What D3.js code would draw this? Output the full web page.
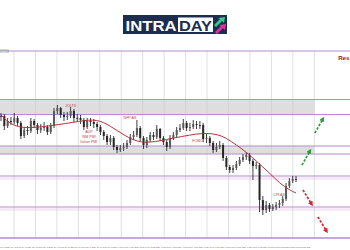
<!DOCTYPE html>
<html>
<head>
<meta charset="utf-8">
<script src="https://cdn.jsdelivr.net/npm/d3@7"></script>
<style>
  html, body { margin: 0; padding: 0; background: #fff; }
  svg { display: block; font-family: "Liberation Sans", Arial, sans-serif; }
</style>
</head>
<body>
<script>
// price bars (4h)
var closes = [1.0944,1.0924,1.0934,1.0932,1.0940,1.0930,1.0904,1.0916,1.0914,1.0934,
  1.0926,1.0916,1.0920,1.0922,1.0912,1.0924,1.0954,1.0960,1.0946,1.0942,
  1.0944,1.0954,1.0940,1.0940,1.0936,1.0922,1.0934,1.0932,1.0928,1.0922,
  1.0912,1.0904,1.0892,1.0900,1.0882,1.0876,1.0880,1.0882,1.0890,1.0902,
  1.0906,1.0920,1.0900,1.0886,1.0896,1.0906,1.0902,1.0918,1.0900,1.0892,
  1.0882,1.0900,1.0906,1.0916,1.0920,1.0930,1.0920,1.0922,1.0928,1.0926,
  1.0926,1.0898,1.0900,1.0890,1.0876,1.0882,1.0886,1.0860,1.0842,1.0836,
  1.0840,1.0848,1.0856,1.0862,1.0866,1.0854,1.0844,1.0846,1.0776,1.0756,
  1.0766,1.0758,1.0762,1.0766,1.0770,1.0778,1.0804,1.0814,1.0818,1.0818];
var highs = [1.0950,1.0948,1.0940,1.0942,1.0950,1.0944,1.0934,1.0922,1.0924,1.0940,
  1.0938,1.0930,1.0928,1.0932,1.0926,1.0930,1.0960,1.0966,1.0962,1.0952,
  1.0952,1.0962,1.0958,1.0948,1.0946,1.0940,1.0940,1.0940,1.0938,1.0932,
  1.0926,1.0916,1.0908,1.0906,1.0904,1.0886,1.0886,1.0890,1.0896,1.0908,
  1.0914,1.0936,1.0924,1.0904,1.0902,1.0912,1.0912,1.0926,1.0920,1.0904,
  1.0896,1.0906,1.0912,1.0922,1.0928,1.0938,1.0934,1.0930,1.0936,1.0934,
  1.0934,1.0930,1.0908,1.0904,1.0894,1.0890,1.0894,1.0890,1.0864,1.0846,
  1.0846,1.0854,1.0862,1.0868,1.0872,1.0870,1.0858,1.0852,1.0850,1.0784,
  1.0774,1.0770,1.0768,1.0772,1.0776,1.0784,1.0810,1.0820,1.0824,1.0824];
var lows = [1.0934,1.0916,1.0920,1.0926,1.0928,1.0924,1.0898,1.0900,1.0906,1.0910,
  1.0920,1.0908,1.0910,1.0914,1.0906,1.0908,1.0920,1.0948,1.0940,1.0934,
  1.0936,1.0940,1.0932,1.0932,1.0928,1.0916,1.0918,1.0924,1.0920,1.0914,
  1.0906,1.0896,1.0886,1.0886,1.0876,1.0870,1.0872,1.0874,1.0878,1.0886,
  1.0896,1.0902,1.0894,1.0878,1.0880,1.0892,1.0896,1.0898,1.0894,1.0886,
  1.0874,1.0878,1.0896,1.0902,1.0912,1.0916,1.0914,1.0914,1.0918,1.0918,
  1.0918,1.0892,1.0890,1.0884,1.0870,1.0872,1.0878,1.0854,1.0836,1.0830,
  1.0830,1.0836,1.0844,1.0852,1.0856,1.0848,1.0816,1.0838,1.0752,1.0746,
  1.0750,1.0752,1.0754,1.0756,1.0760,1.0764,1.0774,1.0800,1.0810,1.0812];

// moving average (red)
var maBar = [0,2,6,15,24,29,33,37,40,43,48,52,57,61,65,68,71,74,77,81,84,87,89];
var maValue = [1.0946,1.0932,1.0918,1.0924,1.0934,1.0938,1.0924,1.0906,1.0896,1.0890,1.0894,1.0900,
  1.0906,1.0910,1.0908,1.0900,1.0886,1.0872,1.0854,1.0830,1.0810,1.0796,1.0790];

// support / resistance levels and the two grey zones
var levels = [1.1074, 1.0977, 1.0947, 1.0884, 1.0868, 1.0824, 1.0762, 1.0700];
var zoneLow = [1.0947, 1.0868];
var zoneHigh = [1.0977, 1.0884];

// news labels
var eventNames = ['JOLTS', 'ADP', 'ISM PMI', 'Italian PMI', 'NFP AS', 'FOMC', 'CPI AS'];
var eventBar = [21, 26.5, 26.5, 26.5, 38.9, 59.3, 83.9];
var eventPrice = [1.0965, 1.0912, 1.0902, 1.0892, 1.0941, 1.0894, 1.0786];

// scenario arrows: [bar from, price from, bar to, price to]
var upArrows = [[94.7, 1.0910, 97.1, 1.0938], [90.8, 1.0846, 93.2, 1.0874]];
var downArrows = [[91.1, 1.0796, 93.7, 1.0768], [95.6, 1.0742, 98.2, 1.0714]];

// date labels under the chart (every half day)
var dateLabels = ['23 Apr 2024','24 Apr 00:00','24 Apr 2024','25 Apr 00:00','25 Apr 2024','26 Apr 00:00',
  '26 Apr 2024','29 Apr 00:00','29 Apr 2024','30 Apr 00:00','30 Apr 2024','1 May 00:00','1 May 2024',
  '2 May 00:00','2 May 2024','3 May 00:00','3 May 2024','6 May 00:00','6 May 2024','7 May 00:00',
  '7 May 2024','8 May 00:00','8 May 2024','9 May 00:00','9 May 2024','10 May 00:00','10 May 2024',
  '13 May 00:00','13 May 2024'];

var W = 350, H = 250;
var svg = d3.select('body').append('svg').attr('width', W).attr('height', H);

var y = d3.scaleLinear().domain([1.0700, 1.1074]).range([238, 51]);
var x = d3.scaleLinear().domain([0, 89]).range([1, 296]);
// one grid step = one trading day
var day = d3.scaleLinear().domain([0, 14]).range([14, 314.3]);

// --- logo ---
var logo = svg.append('g');
logo.append('rect').attr('x', 123).attr('y', 15).attr('width', 104).attr('height', 19).attr('fill', '#1c2d50');
logo.append('text').attr('x', 125.5).attr('y', 30.5).text('INTRA')
    .attr('fill', '#fff').attr('font-size', 15).attr('font-weight', 'bold')
    .attr('textLength', 51).attr('lengthAdjust', 'spacingAndGlyphs');
logo.append('rect').attr('x', 178).attr('y', 17.5).attr('width', 35).attr('height', 14.5).attr('fill', '#fff');
logo.append('text').attr('x', 179).attr('y', 30.5).text('DAY')
    .attr('fill', '#1c2d50').attr('font-size', 15).attr('font-weight', 'bold')
    .attr('textLength', 33).attr('lengthAdjust', 'spacingAndGlyphs');
logo.append('path').attr('d', 'M214,25 L220,19 L218,18 L225,17 L224,23 L222,21 L216,27 Z').attr('fill', '#36c98a');
logo.append('path').attr('d', 'M215,32 L221,26 L219,25 L226,24 L225,30 L223,28 L217,34 Z').attr('fill', '#e2309c');

// --- grey zones ---
svg.selectAll('rect.zone')
    .data(zoneLow).enter().append('rect')
    .attr('class', 'zone')
    .attr('x', 0)
    .attr('width', day(14))
    .attr('y', function(d, i){ return y(zoneHigh[i]); })
    .attr('height', function(d, i){ return y(d) - y(zoneHigh[i]); })
    .attr('fill', '#dedede');

// faint pink glow under the lower levels
svg.selectAll('rect.glow')
    .data(levels.slice(5, 7)).enter().append('rect')
    .attr('class', 'glow')
    .attr('x', 0).attr('width', W)
    .attr('y', function(d){ return y(d) + 1; })
    .attr('height', 3)
    .attr('fill', '#f7e9f6');

// --- vertical day grid ---
svg.selectAll('line.grid')
    .data(d3.range(0, 15)).enter().append('line')
    .attr('class', 'grid')
    .attr('x1', function(d){ return day(d); })
    .attr('x2', function(d){ return day(d); })
    .attr('y1', y(1.1074)).attr('y2', y(1.0700))
    .attr('stroke', '#c9c9c9').attr('stroke-width', 0.6);

// --- level lines ---
svg.selectAll('line.level')
    .data(levels).enter().append('line')
    .attr('class', 'level')
    .attr('x1', 0).attr('x2', W)
    .attr('y1', function(d){ return y(d); })
    .attr('y2', function(d){ return y(d); })
    .attr('stroke', '#b58ad6')
    .attr('stroke-width', function(d, i){ return i == levels.length - 1 ? 1.6 : 1.1; });

// little price tag top-left
svg.append('rect').attr('x', 0).attr('y', y(1.1074) - 1.5).attr('width', 9).attr('height', 3).attr('fill', '#b0b0b0');
svg.append('text').attr('x', 0.5).attr('y', y(1.1074) + 0.8).text('1.1074')
    .attr('font-size', 2.2).attr('fill', '#fff');

svg.append('text').attr('x', 349.5).attr('y', 60).text('Res')
    .attr('text-anchor', 'end')
    .attr('font-size', 6.2).attr('font-weight', 'bold').attr('fill', '#a3151a');

// --- candles ---
var bars = svg.append('g');
bars.selectAll('line')
    .data(closes).enter().append('line')
    .attr('x1', function(d, i){ return x(i); })
    .attr('x2', function(d, i){ return x(i); })
    .attr('y1', function(d, i){ return y(highs[i]); })
    .attr('y2', function(d, i){ return y(lows[i]); })
    .attr('stroke', '#2a2a2a').attr('stroke-width', 0.9);
bars.selectAll('rect')
    .data(closes).enter().append('rect')
    .attr('x', function(d, i){ return x(i) - 1; })
    .attr('width', 2)
    .attr('y', function(d, i){
        var o = i > 0 ? closes[i - 1] : d;
        return y(Math.max(o, d));
    })
    .attr('height', function(d, i){
        var o = i > 0 ? closes[i - 1] : d;
        return Math.max(0.8, Math.abs(y(o) - y(d)));
    })
    .attr('fill', function(d, i){ return i > 0 && d > closes[i - 1] ? '#5a5a5a' : '#262626'; });

// --- moving average ---
var ma = d3.line()
    .x(function(d, i){ return x(maBar[i]); })
    .y(function(d){ return y(d); })
    .curve(d3.curveBasis);
svg.append('path').datum(maValue)
    .attr('d', ma)
    .attr('fill', 'none')
    .attr('stroke', '#b8323a').attr('stroke-width', 1);

// --- news labels ---
svg.selectAll('text.event')
    .data(eventNames).enter().append('text')
    .attr('class', 'event')
    .attr('x', function(d, i){ return x(eventBar[i]); })
    .attr('y', function(d, i){ return y(eventPrice[i]); })
    .attr('dy', '0.35em')
    .attr('text-anchor', 'middle')
    .attr('font-size', 3.6)
    .attr('fill', '#c8433f')
    .text(function(d){ return d; });

// --- arrows ---
var defs = svg.append('defs');
[['up', '#2f9a3c'], ['down', '#d9262c']].forEach(function(m){
    defs.append('marker').attr('id', 'head-' + m[0])
        .attr('viewBox', '0 0 10 10').attr('refX', 5).attr('refY', 5)
        .attr('markerWidth', 3).attr('markerHeight', 3)
        .attr('orient', 'auto')
        .append('path').attr('d', 'M0,0 L10,5 L0,10 Z').attr('fill', m[1]);
});
function drawArrows(list, kind, color){
    svg.selectAll('line.' + kind)
        .data(list).enter().append('line')
        .attr('class', kind)
        .attr('x1', function(d){ return x(d[0]); })
        .attr('y1', function(d){ return y(d[1]); })
        .attr('x2', function(d){ return x(d[2]); })
        .attr('y2', function(d){ return y(d[3]); })
        .attr('stroke', color).attr('stroke-width', 1.7)
        .attr('stroke-dasharray', '2.5,1.5')
        .attr('marker-end', 'url(#head-' + kind + ')');
}
drawArrows(upArrows, 'up', '#2f9a3c');
drawArrows(downArrows, 'down', '#d9262c');

// --- date labels, one per half day ---
svg.selectAll('text.date')
    .data(dateLabels).enter().append('text')
    .attr('class', 'date')
    .attr('x', function(d, i){ return day(i / 2 - 0.5) + 2; })
    .attr('y', 248)
    .attr('text-anchor', 'middle')
    .attr('font-size', 1.8)
    .attr('fill', '#555')
    .text(function(d){ return d; });
</script>
</body>
</html>
